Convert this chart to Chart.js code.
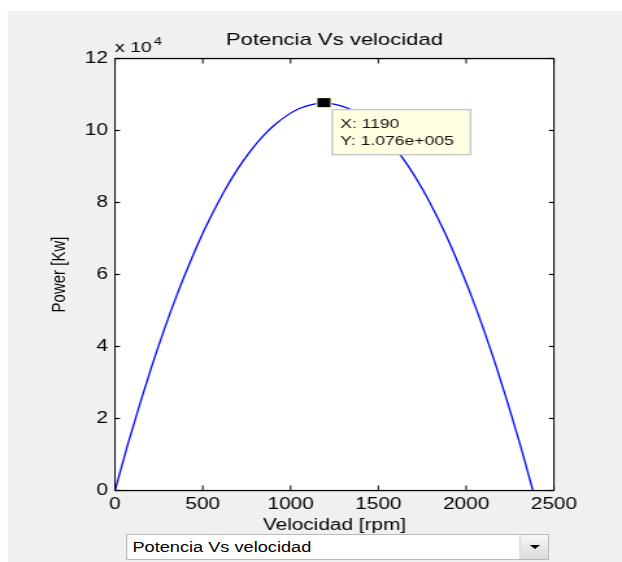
<!DOCTYPE html>
<html>
<head>
<meta charset="utf-8">
<title>Potencia Vs velocidad</title>
<script src="https://cdn.jsdelivr.net/npm/chart.js@4.4.0/dist/chart.umd.min.js"></script>
<style>
  html, body { margin: 0; padding: 0; background: #fff; overflow: hidden; }
  /* the original screenshot is stretched sideways, so the whole figure is drawn narrow and scaled */
  #fig { position: absolute; left: 0; top: 0; width: 479px; height: 562px; transform: scaleX(1.2985); transform-origin: 0 0; }
  #bg { position: absolute; left: 6.2px; top: 11px; width: 480px; height: 560px; background: #f0f0f0; }
  #powerChart { position: absolute; left: 0; top: 0; }
  #popup { position: absolute; left: 97px; top: 534px; width: 326px; height: 26px; box-sizing: border-box; background: #fff; border: 1px solid #b9b9b9; font-family: "Liberation Sans", Arial, sans-serif; font-size: 14px; color: #000; }
  #popup span { position: absolute; left: 4px; top: 4px; }
  #popup .btn { position: absolute; right: 0; top: 0; width: 21px; height: 24px; border-left: 1px solid #d4d4d4; background: linear-gradient(#f7f7f7, #dadada); }
  #popup .btn:after { content: ''; position: absolute; left: 6.5px; top: 10px; border-left: 4px solid transparent; border-right: 4px solid transparent; border-top: 4px solid #000; }
</style>
</head>
<body>
<div id="fig">
  <div id="bg"></div>
  <canvas id="powerChart" width="479" height="562"></canvas>
  <div id="popup"><span>Potencia Vs velocidad</span><div class="btn"></div></div>
</div>
<script>
// Data
const velocidad = [0, 70, 140, 210, 280, 350, 420, 490, 560, 630, 700, 770, 840, 910, 980, 1050, 1120, 1190,
  1260, 1330, 1400, 1470, 1540, 1610, 1680, 1750, 1820, 1890, 1960, 2030, 2100, 2170, 2240, 2310, 2380];
const potencia = [0, 12300, 23800, 34600, 44700, 54000, 62500, 70400, 77400, 83800, 89400, 94200, 98300, 101600, 104200, 106100, 107200, 107600,
  107200, 106100, 104200, 101600, 98300, 94200, 89400, 83800, 77400, 70400, 62500, 54000, 44700, 34600, 23800, 12300, 0];
const xTicks = [0, 500, 1000, 1500, 2000, 2500];
const yTicks = [0, 2, 4, 6, 8, 10, 12];   // x 10^4
const tipIndex = 17;                       // data cursor at X: 1190
const tipLines = ['X: 1190', 'Y: 1.076e+005'];

const SX = 1.2985;   // horizontal stretch of the figure
const FONT = '"Liberation Sans", Arial, sans-serif';

// white axes background
const axesFill = {
  id: 'axesFill',
  beforeDatasetsDraw(chart) {
    const { ctx, chartArea: a } = chart;
    ctx.save();
    ctx.fillStyle = '#ffffff';
    ctx.fillRect(a.left, a.top, a.right - a.left, a.bottom - a.top);
    ctx.restore();
  }
};

// MATLAB style box with inward ticks, plus the exponent label
const axesBox = {
  id: 'axesBox',
  afterDatasetsDraw(chart) {
    const { ctx, chartArea: a, scales } = chart;
    const w = 1.3 / SX;
    ctx.save();
    ctx.fillStyle = '#000';
    ctx.fillRect(a.left - w / 2, a.top, w, a.bottom - a.top);
    ctx.fillRect(a.right - w / 2, a.top, w, a.bottom - a.top);
    ctx.fillRect(a.left, a.top - 0.6, a.right - a.left, 1.3);
    ctx.fillRect(a.left, a.bottom - 0.6, a.right - a.left, 1.3);
    xTicks.forEach(v => {
      const x = scales.x.getPixelForValue(v);
      ctx.fillRect(x - w / 2, a.bottom - 5, w, 5);
      ctx.fillRect(x - w / 2, a.top, w, 5);
    });
    yTicks.forEach(v => {
      const y = scales.y.getPixelForValue(v * 10000);
      ctx.fillRect(a.left, y - 0.6, 5 / SX, 1.2);
      ctx.fillRect(a.right - 5 / SX, y - 0.6, 5 / SX, 1.2);
    });
    ctx.font = '15px ' + FONT;
    ctx.textBaseline = 'alphabetic';
    ctx.textAlign = 'left';
    ctx.fillText('x 10', a.left, 52);
    const wx = ctx.measureText('x 10').width;
    ctx.font = '11px ' + FONT;
    ctx.fillText('4', a.left + wx + 1.5, 45);
    ctx.restore();
  }
};

// data cursor marker and its yellow box
const dataTip = {
  id: 'dataTip',
  afterDraw(chart) {
    const { ctx } = chart;
    const pt = chart.getDatasetMeta(0).data[tipIndex];
    const px = pt.x, py = pt.y;
    ctx.save();
    ctx.fillStyle = '#ffffc8';
    ctx.fillRect(px - 6, py - 6, 12, 11);
    ctx.fillStyle = '#000';
    ctx.fillRect(px - 5, py - 5, 10, 9);
    const bx = px + 6.4, by = py + 6.5, bw = 106.5, bh = 45;
    ctx.fillStyle = '#ffffe1';
    ctx.fillRect(bx, by, bw, bh);
    ctx.strokeStyle = '#c9c9c9';
    ctx.lineWidth = 1.5;
    ctx.strokeRect(bx, by, bw, bh);
    ctx.fillStyle = '#111';
    ctx.font = '13.5px ' + FONT;
    ctx.textAlign = 'left';
    ctx.textBaseline = 'alphabetic';
    ctx.fillText(tipLines[0], bx + 6.2, by + 18);
    ctx.fillText(tipLines[1], bx + 6.2, by + 35);
    ctx.restore();
  }
};

const ctx = document.getElementById('powerChart').getContext('2d');
new Chart(ctx, {
  type: 'line',
  data: {
    datasets: [{
      data: velocidad.map((v, i) => ({ x: v, y: potencia[i] })),
      borderColor: '#0000ff',
      borderWidth: 1.3,
      pointRadius: 0,
      fill: false,
      cubicInterpolationMode: 'monotone'
    }]
  },
  options: {
    responsive: false,
    animation: false,
    layout: { padding: { left: 0, top: 0, right: 52.4, bottom: 0 } },
    plugins: {
      legend: { display: false },
      tooltip: { enabled: false },
      title: {
        display: true,
        fullSize: false,
        text: 'Potencia Vs velocidad',
        color: '#000',
        font: { family: FONT, size: 17, weight: 'normal' },
        padding: { top: 30.3, bottom: 7.8 }
      }
    },
    scales: {
      x: {
        type: 'linear',
        min: 0, max: 2500,
        afterBuildTicks: s => { s.ticks = xTicks.map(v => ({ value: v })); },
        afterFit: s => { s.height = 71.5; },
        grid: { display: false, drawTicks: false },
        border: { display: false },
        ticks: { color: '#000', padding: 4, maxRotation: 0, font: { family: FONT, size: 16 }, callback: v => String(v) },
        title: { display: true, text: 'Velocidad [rpm]', color: '#000', font: { family: FONT, size: 16 }, padding: { top: 0, bottom: 27 } }
      },
      y: {
        min: 0, max: 120000,
        afterBuildTicks: s => { s.ticks = yTicks.map(v => ({ value: v * 10000 })); },
        afterFit: s => { s.width = 88.56; },
        grid: { display: false, drawTicks: false },
        border: { display: false },
        ticks: { color: '#000', padding: 5.4, font: { family: FONT, size: 16 }, callback: v => String(v / 10000) },
        title: { display: true, text: 'Power [Kw]', color: '#000', font: { family: FONT, size: 15 }, padding: { top: 37, bottom: 0 } }
      }
    }
  },
  plugins: [axesFill, axesBox, dataTip]
});
</script>
</body>
</html>
